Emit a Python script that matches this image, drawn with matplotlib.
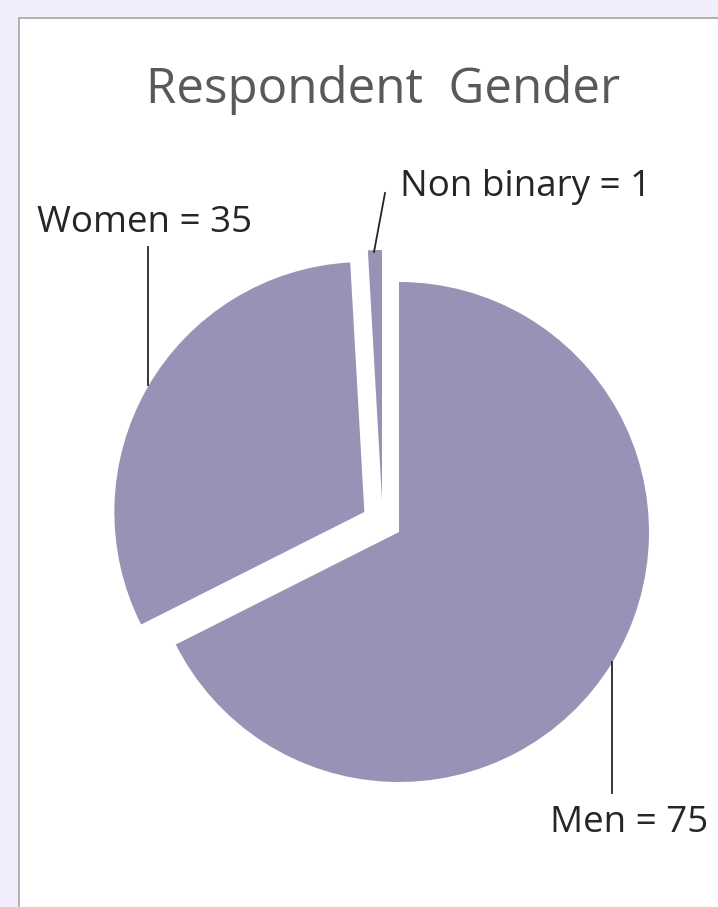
import matplotlib.pyplot as plt
from matplotlib.patches import Rectangle

labels = ["Men", "Women", "Non binary"]
counts = [75, 35, 1]
explode = [0.0, 0.16, 0.0]   # fraction of the radius

W, H = 718, 907
pie_color = "#9992b7"
text_color = "#262626"

plt.rcParams["font.family"] = ["Open Sans", "DejaVu Sans"]

fig = plt.figure(figsize=(W / 100, H / 100), dpi=100)
fig.patch.set_facecolor("#f0eefb")

ax = fig.add_axes([0, 0, 1, 1])

# axes work in pixels, so the pie centre and radius are in pixels too
cx, cy, r = 399, H - 532, 250
wedges, _ = ax.pie(counts, explode=[e * r for e in explode], startangle=90,
                   counterclock=False, colors=[pie_color] * len(counts),
                   radius=r, center=(cx, cy), wedgeprops=dict(linewidth=0),
                   frame=True)
ax.set_xlim(0, W)
ax.set_ylim(0, H)
ax.set_aspect("equal")
ax.axis("off")
# the small slice is pulled up and slightly left
wedges[2].set_center((cx - 17, cy + 32))

# white chart panel with a thin grey frame, behind the pie
ax.add_patch(Rectangle((19, -10), W, H - 18 + 10, facecolor="white",
                       edgecolor="#a6a6a6", linewidth=1.2, zorder=0, clip_on=False))

ax.text(383, H - 103, "Respondent  Gender", ha="center", va="baseline",
        fontsize=35.5, color="#595959")

lab_kw = dict(ha="left", va="baseline", fontsize=26.5, color=text_color)
ax.text(550, H - 832, f"{labels[0]} = {counts[0]}", **lab_kw)
ax.text(37, H - 232, f"{labels[1]} = {counts[1]}", **lab_kw)
ax.text(400, H - 196, f"{labels[2]} = {counts[2]}", **lab_kw)

line_kw = dict(color="#262626", linewidth=1.3)
ax.plot([612, 612], [H - 662, H - 793], **line_kw)
ax.plot([148, 148], [H - 247, H - 385], **line_kw)
ax.plot([374, 385], [H - 252, H - 193], **line_kw)

fig.savefig("out.png", dpi=100, facecolor=fig.get_facecolor())
